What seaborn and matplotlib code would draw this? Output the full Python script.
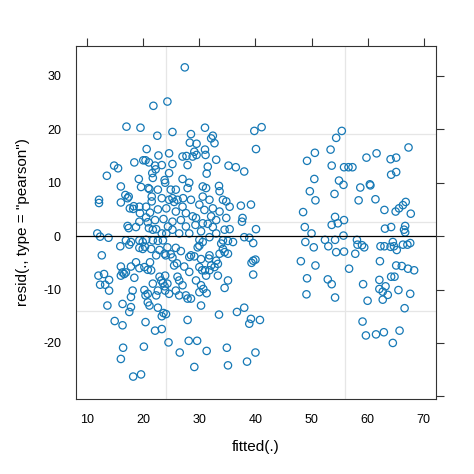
import matplotlib
matplotlib.use("Agg")
import pandas as pd
import matplotlib.pyplot as plt
import seaborn as sns

# points: (fitted, pearson residual)
top_points = [
    (27.4, 31.6), (21.8, 24.4), (24.3, 25.2), (17.0, 20.5), (19.5, 20.3), (22.5, 18.8),
    (25.2, 19.5), (28.5, 19.1), (31.0, 20.3), (39.8, 19.7), (41.1, 20.4), (32.4, 18.8),
    (32.1, 18.3),
]

upper_left = [
    (20.6, 16.3), (22.7, 15.1), (18.4, 13.8), (20.4, 14.2), (21.0, 13.8), (14.8, 13.2),
    (15.5, 12.7), (22.1, 13.2), (23.3, 13.3), (13.5, 11.3), (21.6, 11.8), (19.2, 10.7),
    (21.7, 10.9), (23.8, 10.5), (23.9, 10.0), (16.0, 9.3), (19.6, 9.2), (21.1, 8.8),
    (22.6, 8.7), (16.8, 7.7), (17.4, 7.4), (17.2, 7.1), (12.1, 6.8), (12.1, 6.2),
    (16.0, 6.3), (21.5, 6.5), (21.5, 7.4), (19.3, 5.5), (20.5, 5.5), (23.3, 7.1),
    (24.6, 6.8), (17.6, 5.2), (21.2, 4.4), (22.6, 5.0), (24.1, 5.2), (19.4, 4.3),
    (20.5, 3.5), (22.1, 3.0), (23.6, 3.2), (17.2, 1.9), (17.4, 1.5), (18.7, 1.7),
    (21.0, 1.5), (21.7, 1.2), (23.3, 0.5), (24.1, 0.5), (11.8, 0.5), (25.2, 1.2),
    (24.4, 1.8), (19.3, 2.7), (20.8, 2.6), (22.3, 1.3), (18.3, 5.6), (18.2, 5.1),
    (20.0, 14.2), (22.2, 12.5), (20.9, 9.0),
]

upper_mid = [
    (28.3, 17.5), (29.5, 17.3), (32.7, 17.4), (24.6, 15.5), (29.1, 15.8), (29.5, 15.2),
    (28.8, 14.9), (31.0, 16.2), (31.1, 15.2), (40.1, 16.3), (27.0, 14.9), (27.7, 15.0),
    (25.2, 13.5), (27.9, 13.3), (33.0, 14.3), (35.2, 13.2), (36.5, 12.9), (38.0, 12.1),
    (31.5, 13.0), (31.3, 11.7), (24.6, 11.8), (27.0, 10.7), (28.2, 10.0), (27.9, 9.0),
    (24.9, 8.7), (25.8, 8.7), (30.6, 9.3), (31.2, 9.0), (33.5, 9.4), (33.6, 8.4),
    (25.2, 7.1), (26.1, 6.8), (28.5, 6.8), (30.6, 7.4), (31.8, 6.8), (34.2, 6.8),
    (34.8, 6.5), (35.4, 5.5), (37.4, 5.7), (39.2, 5.9), (27.0, 5.5), (30.0, 5.9),
    (32.4, 5.2), (33.6, 4.6), (25.8, 4.6), (27.6, 4.3), (30.9, 4.9), (28.8, 3.7),
    (29.4, 3.4), (32.1, 3.7), (33.0, 3.0), (34.8, 3.4), (37.7, 3.4), (37.6, 2.7),
    (25.2, 2.7), (26.7, 3.0), (30.6, 2.4), (31.5, 2.3), (27.6, 1.8), (32.4, 1.7),
    (34.5, 1.2), (35.4, 1.3), (40.1, 1.3), (26.4, 0.5), (28.2, 0.5), (30.3, 0.9),
    (33.0, 0.5), (27.1, 7.1), (25.5, 6.4), (29.3, 2.1),
]

lower_left = [
    (12.3, -0.1), (13.8, -0.3), (16.9, -0.8), (17.8, -1.1), (15.9, -1.9), (17.5, -1.6),
    (19.3, -0.8), (19.9, -1.1), (20.5, -0.7), (19.3, -2.2), (19.9, -2.4), (20.3, -2.0),
    (21.7, -0.8), (22.6, -0.9), (23.5, -0.8), (21.4, -2.4), (22.3, -3.6), (23.8, -3.3),
    (12.6, -3.6), (16.0, -5.7), (17.8, -5.7), (18.7, -4.9), (19.3, -6.0), (20.2, -5.8),
    (20.8, -6.3), (21.4, -6.4), (21.2, -4.9), (16.3, -6.8), (16.9, -6.8), (16.0, -7.4),
    (16.6, -7.1), (12.0, -7.4), (13.0, -7.1), (13.9, -8.2), (12.3, -9.1), (13.2, -9.1),
    (13.9, -10.2), (18.4, -7.8), (22.9, -7.6), (23.9, -7.4), (23.2, -8.3), (21.7, -8.9),
    (23.5, -8.8), (23.8, -9.4), (22.6, -10.2), (20.2, -10.1), (20.8, -10.8), (23.9, -10.2),
    (17.8, -11.4), (18.1, -10.2), (20.4, -11.1), (22.3, -11.1), (13.6, -13.0), (16.3, -12.7),
    (17.8, -13.3), (17.5, -14.2), (20.8, -12.4), (21.1, -13.0), (22.6, -13.4), (23.6, -14.4),
    (23.3, -15.0), (14.9, -15.9), (16.3, -16.7), (20.4, -16.1), (22.1, -17.7), (23.3, -17.4),
    (22.9, -2.6), (24.0, -3.6),
]

lower_mid = [
    (30.0, -0.7), (30.6, -1.1), (31.8, -0.2), (34.2, -0.8), (35.1, -0.9), (36.0, -1.1),
    (38.0, -0.2), (38.9, -0.3), (39.6, -1.3), (24.3, -2.1), (25.8, -2.2), (26.7, -2.8),
    (24.9, -3.4), (25.2, -4.0), (29.7, -2.1), (30.0, -1.8), (28.5, -3.6), (29.1, -3.8),
    (28.2, -3.9), (30.3, -4.3), (31.8, -3.6), (31.7, -4.2), (33.6, -3.3), (34.2, -2.4),
    (33.9, -1.4), (35.1, -3.3), (34.5, -3.0), (33.0, -4.6), (33.3, -5.2), (32.7, -5.8),
    (32.1, -5.5), (39.6, -4.6), (40.0, -4.4), (39.3, -5.0), (25.5, -5.5), (27.3, -5.7),
    (30.0, -5.8), (30.5, -6.4), (31.8, -6.4), (31.2, -7.4), (33.3, -7.4), (39.6, -7.2),
    (28.2, -6.7), (26.1, -7.6), (26.4, -8.3), (24.3, -8.9), (27.0, -9.2), (29.4, -8.3),
    (30.3, -9.2), (30.7, -9.9), (35.1, -8.3), (34.5, -9.7), (24.6, -10.8), (25.8, -10.2),
    (26.4, -11.1), (27.6, -11.1), (27.9, -11.7), (28.5, -11.7), (30.0, -10.5), (31.3, -10.7),
    (30.3, -13.0), (24.05, -14.6), (33.5, -14.7), (36.7, -14.2), (38.0, -13.4), (27.9, -15.7),
    (39.2, -15.5), (38.9, -16.4), (40.8, -15.7), (26.0, -5.1), (31.0, -6.4),
]

bottom_points = [
    (20.1, -20.7), (16.4, -20.9), (16.0, -23.0), (24.5, -19.9), (26.5, -21.8), (28.1, -19.6),
    (29.6, -19.6), (31.3, -21.5), (34.9, -20.9), (35.1, -24.2), (29.1, -24.5), (18.2, -26.3),
    (19.6, -25.9), (40.0, -21.8), (38.5, -23.5),
]

right_points = [
    (55.4, 19.7), (54.4, 18.4), (53.4, 16.2), (50.6, 15.6), (49.2, 14.1), (67.3, 16.6),
    (61.6, 15.5), (59.8, 14.7), (64.1, 14.4), (65.1, 14.7), (53.6, 13.2), (55.8, 12.9),
    (56.6, 12.9), (57.3, 12.9), (64.2, 11.5), (65.1, 12.0), (50.5, 10.7), (54.9, 10.4),
    (55.7, 9.6), (49.7, 8.4), (60.4, 9.7), (60.5, 9.5), (58.7, 9.1), (54.1, 7.9),
    (50.7, 6.7), (58.4, 6.7), (61.4, 6.9), (48.5, 4.5), (63.0, 4.9), (65.0, 4.6),
    (65.6, 5.2), (66.3, 5.8), (66.8, 6.4), (67.7, 4.2), (54.2, 3.6), (55.8, 3.0),
    (54.7, 2.4), (53.6, 2.1), (48.8, 1.7), (63.1, 1.4), (64.2, 1.7), (66.7, 1.9),
    (66.5, 1.2), (66.7, 0.7), (50.0, 0.5), (55.7, 0.1), (48.9, -1.1), (52.4, -0.7),
    (54.2, -0.7), (58.1, -0.7), (58.2, -1.6), (59.0, -1.7), (59.4, -2.1), (50.4, -2.1),
    (53.0, -1.9), (54.4, -3.0), (55.8, -2.9), (57.8, -3.3), (62.3, -1.9), (63.0, -1.9),
    (64.1, -2.0), (64.5, -1.1), (65.2, -2.6), (64.7, -1.9), (66.3, -1.6), (67.1, -1.6),
    (67.6, -1.3), (48.1, -4.7), (50.7, -5.5), (56.7, -6.1), (62.2, -4.7), (65.1, -5.5),
    (66.1, -5.6), (67.2, -6.1), (68.3, -6.4), (49.2, -7.9), (52.9, -8.1), (53.6, -9.0),
    (59.2, -9.0), (64.2, -7.6), (64.8, -7.6), (62.1, -8.2), (62.1, -9.9), (63.2, -9.4),
    (62.7, -10.4), (63.6, -11.0), (65.5, -10.1), (67.6, -10.8), (49.1, -10.9), (54.2, -11.5),
    (60.0, -12.1), (62.7, -11.9), (66.6, -13.5), (59.1, -16.0), (59.7, -18.6), (61.5, -18.4),
    (62.9, -18.0), (65.7, -17.7), (64.5, -20.0),
]

grid_x = [24.0, 56.0]
grid_y = [19.1, 2.7, -14.0]
x_ticks = [10, 20, 30, 40, 50, 60, 70]
y_ticks = [-30, -20, -10, 0, 10, 20, 30]

all_points = (top_points + upper_left + upper_mid + lower_left + lower_mid
              + bottom_points + right_points)
df = pd.DataFrame(all_points, columns=["fitted", "resid"])

sns.set_style("white")
plt.rcParams["font.family"] = ["Liberation Sans", "DejaVu Sans"]

fig = plt.figure(figsize=(4.74, 4.74), dpi=100)
ax = fig.add_axes([76 / 474, 75 / 474, 360 / 474, 353 / 474])

for gx in grid_x:
    ax.axvline(gx, color="#e6e6e6", lw=0.9, zorder=0)
for gy in grid_y:
    ax.axhline(gy, color="#e6e6e6", lw=0.9, zorder=0)

sns.scatterplot(data=df, x="fitted", y="resid", ax=ax, marker="o", s=28,
                facecolors="none", edgecolor="#1679b6", linewidth=0.9, zorder=2)
ax.collections[-1].set_facecolor("none")
ax.collections[-1].set_edgecolor("#1679b6")

ax.axhline(0, color="black", lw=0.9, zorder=3)

ax.set_xlim(8.0, 72.2)
ax.set_ylim(-30.5, 35.6)
ax.set_xticks(x_ticks)
ax.set_yticks(y_ticks)
ax.set_yticklabels(["" if t == -30 else str(t) for t in y_ticks])
ax.tick_params(direction="out", length=5.8, width=0.8, color="#333333",
               top=True, right=True, labeltop=False, labelright=False,
               labelsize=9, labelcolor="black", pad=5)
for sp in ax.spines.values():
    sp.set_color("#333333")
    sp.set_linewidth(0.8)

ax.set_xlabel("fitted(.)", fontsize=11, labelpad=10, color="black")
ax.set_ylabel('resid(., type = "pearson")', fontsize=11, labelpad=9, color="black")

fig.savefig("out.png", dpi=100)
